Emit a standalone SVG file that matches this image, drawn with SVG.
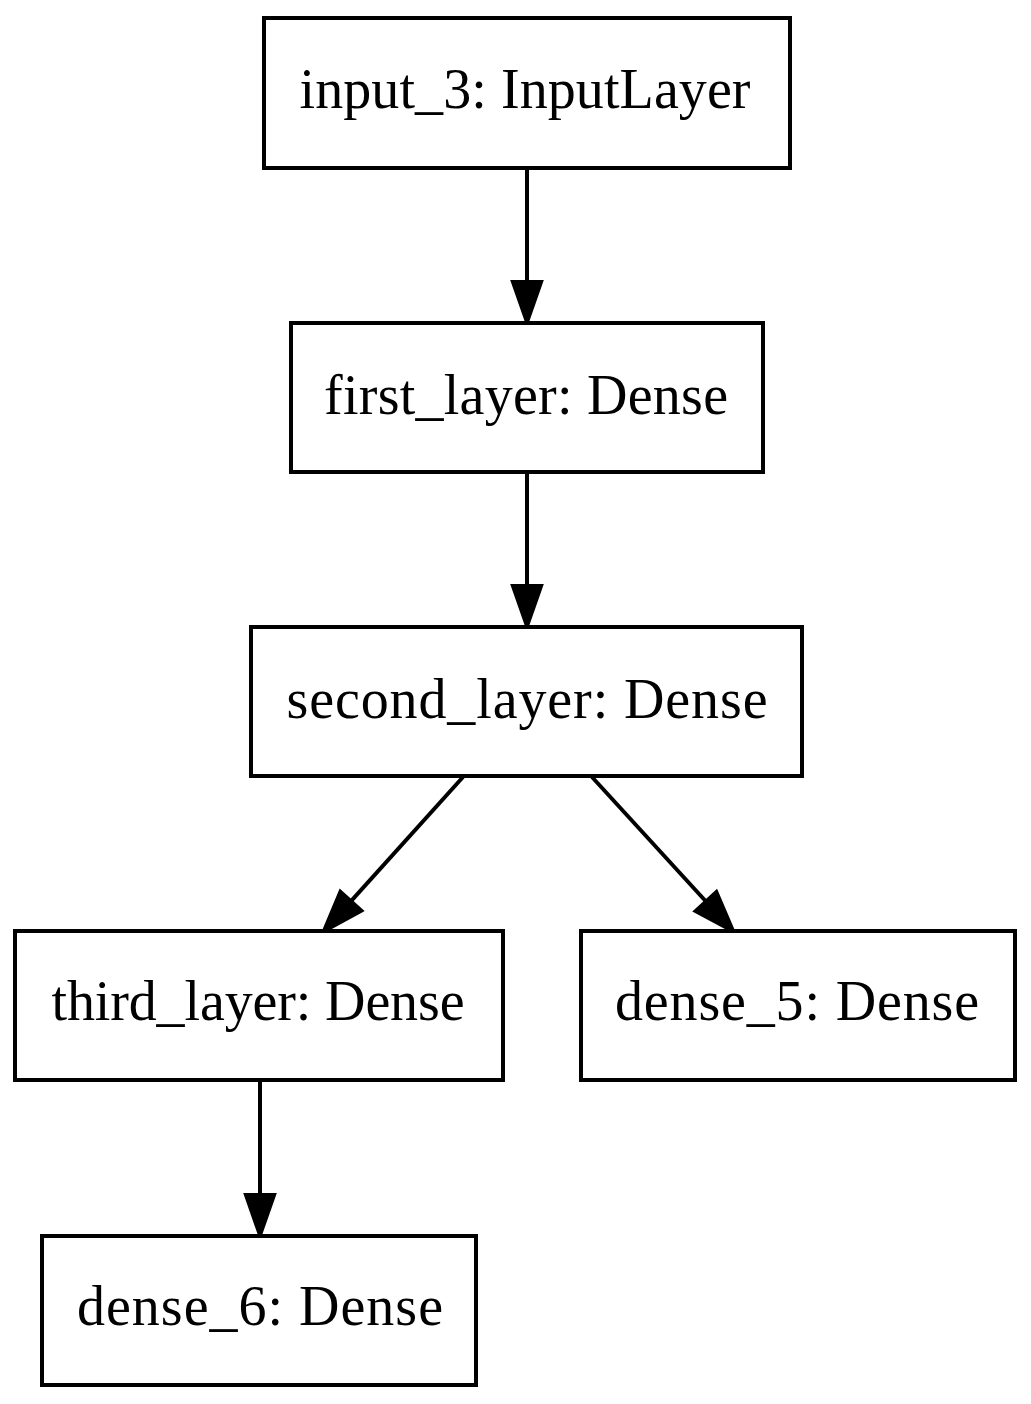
<svg xmlns="http://www.w3.org/2000/svg" width="1031" height="1404" viewBox="0 0 1031 1404">
<style>
.node rect{fill:#fff;stroke:#000;stroke-width:4}
.node text{font-family:"Liberation Serif","Times New Roman",serif;font-size:56px;fill:#000;text-anchor:middle}
.edges line{stroke:#000;stroke-width:4;fill:none}
</style>
<defs>
<marker id="arr" markerUnits="userSpaceOnUse" markerWidth="60" markerHeight="40" refX="0" refY="0" orient="auto" overflow="visible">
<path d="M0,-14 L40,0 L0,14 Z" fill="#000" stroke="#000" stroke-width="4" stroke-linejoin="miter"/>
</marker>
</defs>
<rect x="0" y="0" width="1031" height="1404" fill="#fff"/>
<g id="edges" class="edges">
<line x1="527" y1="168" x2="527" y2="282" marker-end="url(#arr)"/>
<line x1="527" y1="472" x2="527" y2="586" marker-end="url(#arr)"/>
<line x1="463" y1="777" x2="350.8" y2="901.3" marker-end="url(#arr)"/>
<line x1="592" y1="777" x2="706" y2="901.5" marker-end="url(#arr)"/>
<line x1="260" y1="1080" x2="260" y2="1195" marker-end="url(#arr)"/>
</g>
<g id="input_3" class="node"><rect x="264" y="18" width="526" height="150"/><text x="525" y="108" textLength="451" lengthAdjust="spacing">input_3: InputLayer</text></g>
<g id="first_layer" class="node"><rect x="291" y="323" width="472" height="149"/><text x="526" y="414" textLength="404" lengthAdjust="spacing">first_layer: Dense</text></g>
<g id="second_layer" class="node"><rect x="251" y="627" width="551" height="149"/><text x="527" y="718" textLength="481" lengthAdjust="spacing">second_layer: Dense</text></g>
<g id="third_layer" class="node"><rect x="15" y="931" width="488" height="149"/><text x="258" y="1020" textLength="413" lengthAdjust="spacing">third_layer: Dense</text></g>
<g id="dense_5" class="node"><rect x="581" y="931" width="434" height="149"/><text x="797" y="1020" textLength="364" lengthAdjust="spacing">dense_5: Dense</text></g>
<g id="dense_6" class="node"><rect x="42" y="1236" width="434" height="149"/><text x="260" y="1325" textLength="366" lengthAdjust="spacing">dense_6: Dense</text></g>
</svg>
